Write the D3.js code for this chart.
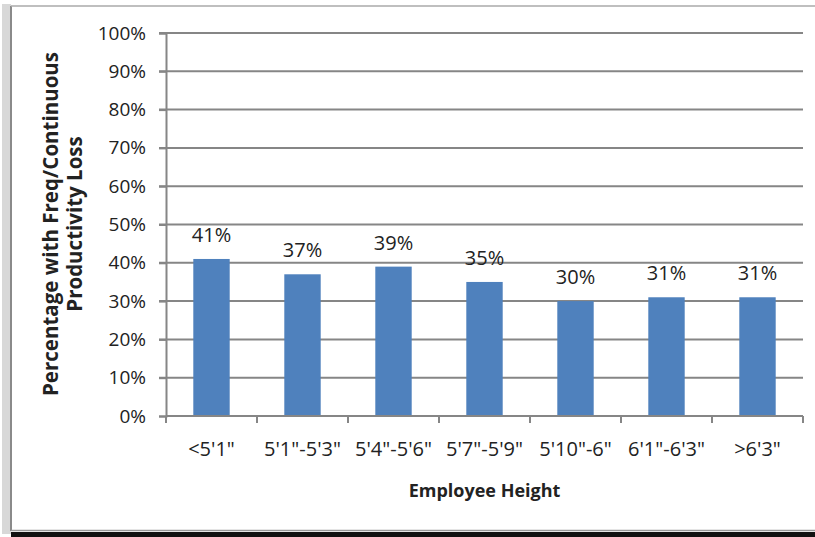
<!DOCTYPE html>
<html>
<head>
<meta charset="utf-8">
<script src="https://cdn.jsdelivr.net/npm/d3@7"></script>
<style>
  body { margin: 0; background: #fff; }
  text { font-family: "Open Sans", sans-serif; fill: #222; }
</style>
</head>
<body>
<script>
// Chart data
const categories = ['<5\'1"', '5\'1"-5\'3"', '5\'4"-5\'6"', '5\'7"-5\'9"', '5\'10"-6"', '6\'1"-6\'3"', '>6\'3"'];
const values = [41, 37, 39, 35, 30, 31, 31];
const yTicks = [0, 10, 20, 30, 40, 50, 60, 70, 80, 90, 100];

// Setup variables
const width = 815;
const height = 537;
const xStart = 166;
const xEnd = 803;
const yTop = 33;
const yBottom = 416;

const svg = d3.select("body")
      .append("svg")
      .attr("width", width)
      .attr("height", height);

// Frame with a bit of shadow
svg.append("rect")
    .attr("x", 2).attr("y", 4).attr("width", 9).attr("height", 530)
    .attr("fill", "#d8d8d8");
svg.append("line")
    .attr("x1", 11).attr("x2", 11).attr("y1", 6).attr("y2", 531)
    .attr("stroke", "#8a8a8a").attr("stroke-width", 2);
svg.append("line")
    .attr("x1", 11).attr("x2", width).attr("y1", 6).attr("y2", 6)
    .attr("stroke", "#aaa").attr("stroke-width", 1.5);
svg.append("line")
    .attr("x1", 11).attr("x2", width).attr("y1", 530.5).attr("y2", 530.5)
    .attr("stroke", "#999").attr("stroke-width", 1.5);
svg.append("rect")
    .attr("x", 11).attr("y", 532).attr("width", width).attr("height", 5)
    .attr("fill", "#111");

// Scales
const x = d3.scaleBand()
      .domain(categories)
      .range([xStart, xEnd])
      .paddingInner(0.6)
      .paddingOuter(0.3);

const xBounds = d3.scaleBand().domain(categories).range([xStart, xEnd]);

const y = d3.scaleLinear()
      .domain([0, 100])
      .range([yBottom, yTop]);

// Gridlines
svg.append("g")
    .selectAll("line")
    .data(yTicks.filter(d => d > 0))
    .join("line")
    .attr("x1", xStart - 7)
    .attr("x2", xEnd)
    .attr("y1", d => y(d))
    .attr("y2", d => y(d))
    .attr("stroke", "#868686")
    .attr("stroke-width", 2);

// Bars
svg.append("g")
    .selectAll("rect")
    .data(values)
    .join("rect")
    .attr("x", (d, i) => x(categories[i]))
    .attr("y", d => y(d))
    .attr("width", x.bandwidth())
    .attr("height", d => yBottom - y(d))
    .attr("fill", "#4f81bd");

// Y axis
const yAxis = svg.append("g")
    .attr("transform", `translate(${xStart}, 0)`)
    .call(d3.axisLeft(y).tickValues(yTicks).tickFormat(d => d + "%").tickSize(7).tickPadding(13));
yAxis.select(".domain").attr("stroke", "#868686").attr("stroke-width", 2);
yAxis.selectAll(".tick line").attr("stroke", "#868686").attr("stroke-width", 2);
yAxis.selectAll("text").attr("font-size", 19).attr("fill", "#222")
    .attr("font-family", "Open Sans, sans-serif");

// X axis line and boundary ticks
svg.append("line")
    .attr("x1", xStart).attr("x2", xEnd)
    .attr("y1", yBottom).attr("y2", yBottom)
    .attr("stroke", "#868686").attr("stroke-width", 2);
const bounds = categories.map(c => xBounds(c)).concat([xEnd]);
svg.append("g")
    .selectAll("line")
    .data(bounds)
    .join("line")
    .attr("x1", d => d).attr("x2", d => d)
    .attr("y1", yBottom).attr("y2", yBottom + 7)
    .attr("stroke", "#868686").attr("stroke-width", 2);

// Category labels
svg.append("g")
    .selectAll("text")
    .data(categories)
    .join("text")
    .attr("x", d => xBounds(d) + xBounds.bandwidth() / 2)
    .attr("y", 456)
    .attr("text-anchor", "middle")
    .attr("font-size", 20)
    .text(d => d);

// Value labels
svg.append("g")
    .selectAll("text")
    .data(values)
    .join("text")
    .attr("x", (d, i) => x(categories[i]) + x.bandwidth() / 2)
    .attr("y", d => y(d) - 17)
    .attr("text-anchor", "middle")
    .attr("font-size", 20)
    .text(d => d + "%");

// Axis titles
svg.append("text")
    .attr("x", (xStart + xEnd) / 2)
    .attr("y", 497)
    .attr("text-anchor", "middle")
    .attr("font-size", 18)
    .attr("font-weight", "bold")
    .text("Employee Height");

const yTitle = svg.append("text")
    .attr("transform", `translate(58, 224) rotate(-90)`)
    .attr("text-anchor", "middle")
    .attr("font-size", 20.5)
    .attr("font-weight", "bold");
yTitle.append("tspan").attr("x", 0).attr("dy", 0).text("Percentage with Freq/Continuous");
yTitle.append("tspan").attr("x", 0).attr("dy", 24).text("Productivity Loss");
</script>
</body>
</html>
